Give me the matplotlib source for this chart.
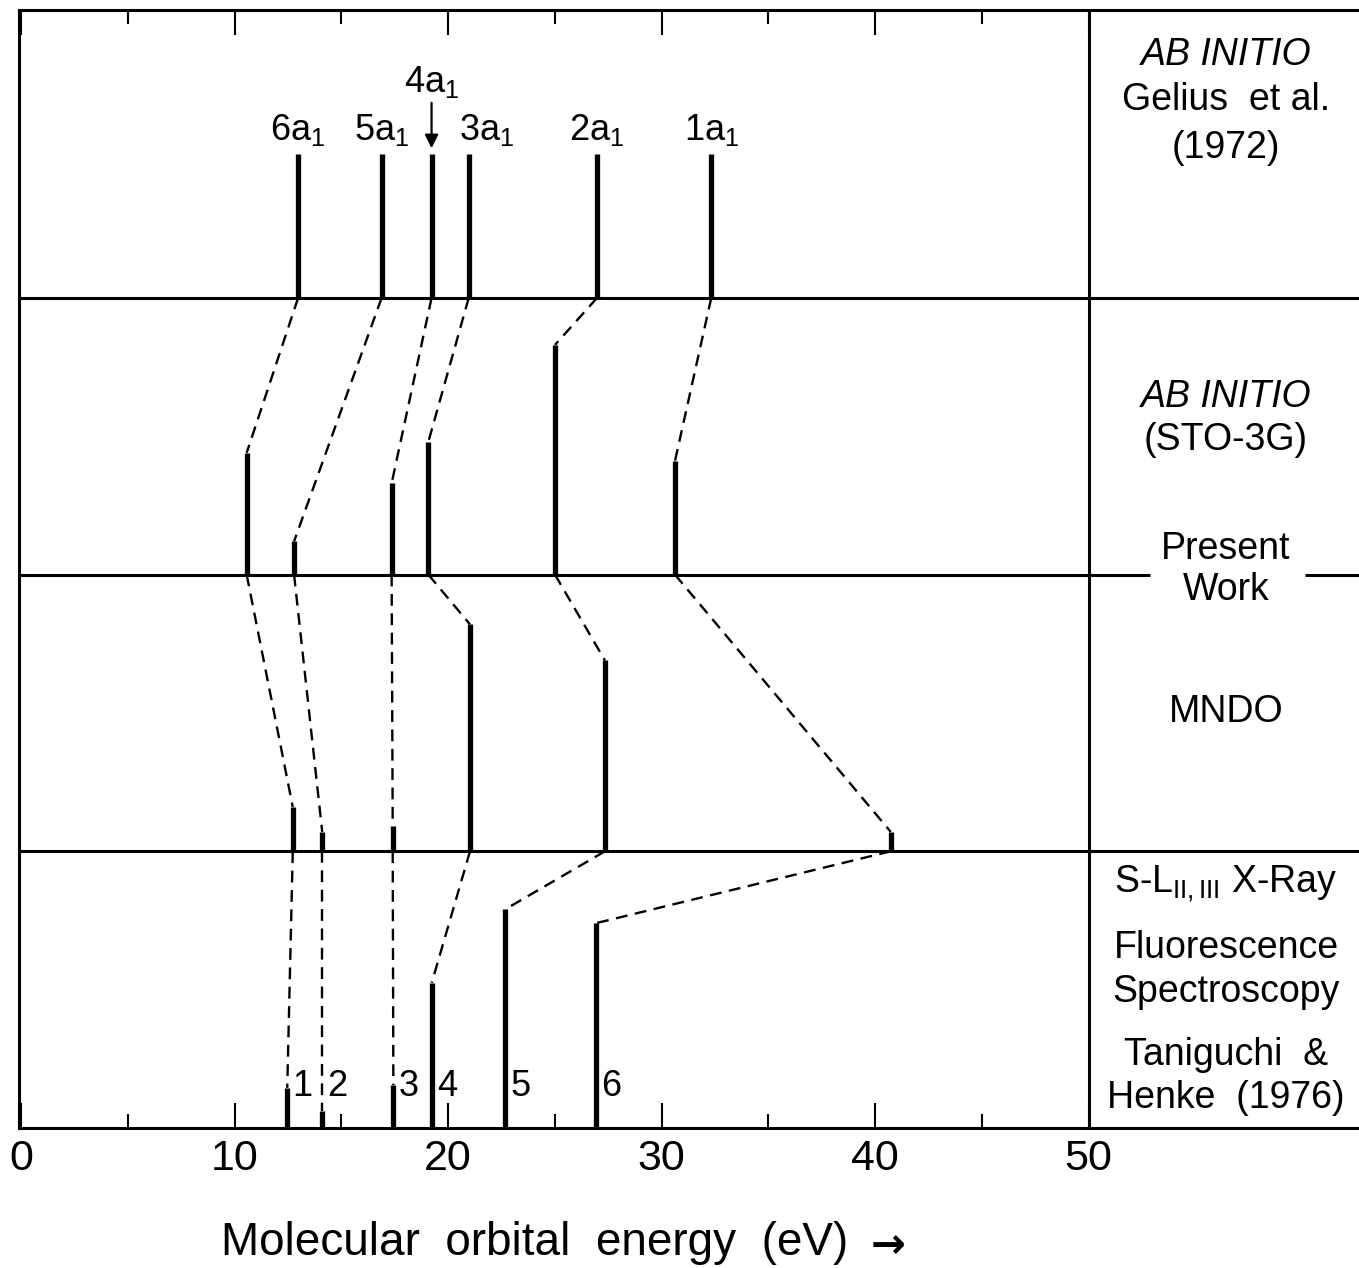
import matplotlib
matplotlib.use('Agg')
import matplotlib.pyplot as plt
from matplotlib.ticker import FixedLocator

plt.rcParams['font.family'] = ['Liberation Sans', 'DejaVu Sans']
plt.rcParams['mathtext.fontset'] = 'custom'
plt.rcParams['mathtext.rm'] = 'Liberation Sans'
plt.rcParams['mathtext.it'] = 'Liberation Sans:italic'
plt.rcParams['mathtext.default'] = 'regular'

# orbital energies (eV) and relative line heights, one row per method
ORBITALS   = ['6a$_1$', '5a$_1$', '4a$_1$', '3a$_1$', '2a$_1$', '1a$_1$']
gelius_ev  = [12.98, 16.89, 19.23, 20.97, 26.98, 32.33]
gelius_h   = [0.52, 0.52, 0.52, 0.52, 0.52, 0.52]
sto3g_ev   = [10.57, 12.79, 17.36, 19.08, 25.01, 30.63]
sto3g_h    = [0.44, 0.12, 0.33, 0.48, 0.83, 0.41]
mndo_ev    = [12.73, 14.11, 17.41, 21.03, 27.35, 40.74]
mndo_h     = [0.16, 0.07, 0.09, 0.82, 0.69, 0.07]
xray_ev    = [12.47, 14.11, 17.44, 19.24, 22.67, 26.92]
xray_h     = [0.145, 0.06, 0.155, 0.525, 0.79, 0.74]
XRAY_PEAKS = ['1', '2', '3', '4', '5', '6']

MAJOR_TICKS = [0, 10, 20, 30, 40, 50]
MINOR_TICKS = [5, 15, 25, 35, 45]

# layout (pixels of the 1359x1268 canvas)
W, H = 1359, 1268
LEFT_PX, TOP_PX, BOTTOM_PX = 19, 10, 1128
PANEL_PX = 276.7
X0_PX, PX_PER_EV = 21, 21.35
LW_BAR, LW_DASH, LW_FRAME = 3.8, 1.7, 2.2
FS = 27


def xdata(px):
    return (px - X0_PX) / PX_PER_EV


def ydata(py):
    return (BOTTOM_PX - py) / PANEL_PX


fig = plt.figure(figsize=(W / 100, H / 100), dpi=100)
ax = fig.add_axes([LEFT_PX / W, 1 - BOTTOM_PX / H,
                   1 - LEFT_PX / W, (BOTTOM_PX - TOP_PX) / H])
ax.set_xlim(xdata(LEFT_PX), xdata(W))
ax.set_ylim(0, ydata(TOP_PX))

rows = [(gelius_ev, gelius_h, 3), (sto3g_ev, sto3g_h, 2),
        (mndo_ev, mndo_h, 1), (xray_ev, xray_h, 0)]

# bars
for ev, h, base in rows:
    ax.vlines(ev, base, [base + v for v in h], color='black',
              lw=LW_BAR, capstyle='butt')

# dashed correlation lines between neighbouring rows
for (ev_up, _, base_up), (ev_lo, h_lo, base_lo) in zip(rows[:-1], rows[1:]):
    for xu, xl, hl in zip(ev_up, ev_lo, h_lo):
        ax.plot([xu, xl], [base_up, base_lo + hl], color='black',
                lw=LW_DASH, dashes=(5, 3.2))

# panel separators
xmin, xmax = ax.get_xlim()
ax.hlines([1, 3], xmin, xmax, color='black', lw=LW_FRAME)
ax.hlines(2, xmin, xdata(1150), color='black', lw=LW_FRAME)
ax.hlines(2, xdata(1305), xmax, color='black', lw=LW_FRAME)
ax.axvline(50, color='black', lw=LW_FRAME)

# orbital labels above the Gelius lines
label_shift = {'3a$_1$': 18}
for name, x in zip(ORBITALS, gelius_ev):
    if name == '4a$_1$':
        ax.text(x, ydata(82), name, ha='center', va='center', fontsize=26)
        ax.annotate('', xy=(x, ydata(151)), xytext=(x, ydata(100)),
                    arrowprops=dict(arrowstyle='-|>', color='black',
                                    lw=1.6, mutation_scale=20))
    else:
        ax.annotate(name, (x, ydata(130)), xytext=(label_shift.get(name, 0), 0),
                    textcoords='offset pixels', ha='center', va='center',
                    fontsize=26)

# peak numbers next to the X-ray lines
for name, x in zip(XRAY_PEAKS, xray_ev):
    ax.annotate(name, (x, ydata(1086)), xytext=(5, 0),
                textcoords='offset pixels', ha='left', va='center',
                fontsize=26)

# method captions on the right
xc = xdata(1226)
captions = [
    ('AB INITIO', 55, 'italic'),
    ('Gelius  et al.', 100, 'normal'),
    ('(1972)', 148, 'normal'),
    ('AB INITIO', 397, 'italic'),
    ('(STO-3G)', 440, 'normal'),
    ('Present', 549, 'normal'),
    ('Work', 590, 'normal'),
    ('MNDO', 712, 'normal'),
    ('S-L$_{II,III}$ X-Ray', 884, 'normal'),
    ('Fluorescence', 948, 'normal'),
    ('Spectroscopy', 992, 'normal'),
    ('Taniguchi  &', 1055, 'normal'),
    ('Henke  (1976)', 1098, 'normal'),
]
for txt, py, style in captions:
    ax.text(xc, ydata(py), txt, ha='center', va='center', fontsize=FS,
            style=style)

# axes frame and ticks
for side in ['left', 'top', 'bottom']:
    ax.spines[side].set_linewidth(LW_FRAME)
ax.spines['right'].set_visible(False)
ax.xaxis.set_major_locator(FixedLocator(MAJOR_TICKS))
ax.xaxis.set_minor_locator(FixedLocator(MINOR_TICKS))
ax.set_xticklabels([str(t) for t in MAJOR_TICKS])
ax.tick_params(axis='x', which='both', direction='in', top=True,
               bottom=True, width=1.5, labelsize=31, pad=8)
ax.tick_params(axis='x', which='major', length=18)
ax.tick_params(axis='x', which='minor', length=10)
ax.set_yticks([])

fig.text(535 / W, 1 - 1243 / H, 'Molecular  orbital  energy  (eV)',
         ha='center', va='center', fontsize=33)
fig.text(888 / W, 1 - 1246 / H, '\u2192', family='DejaVu Sans',
         weight='bold', ha='center', va='center', fontsize=30)

fig.savefig('out.png', dpi=100)
